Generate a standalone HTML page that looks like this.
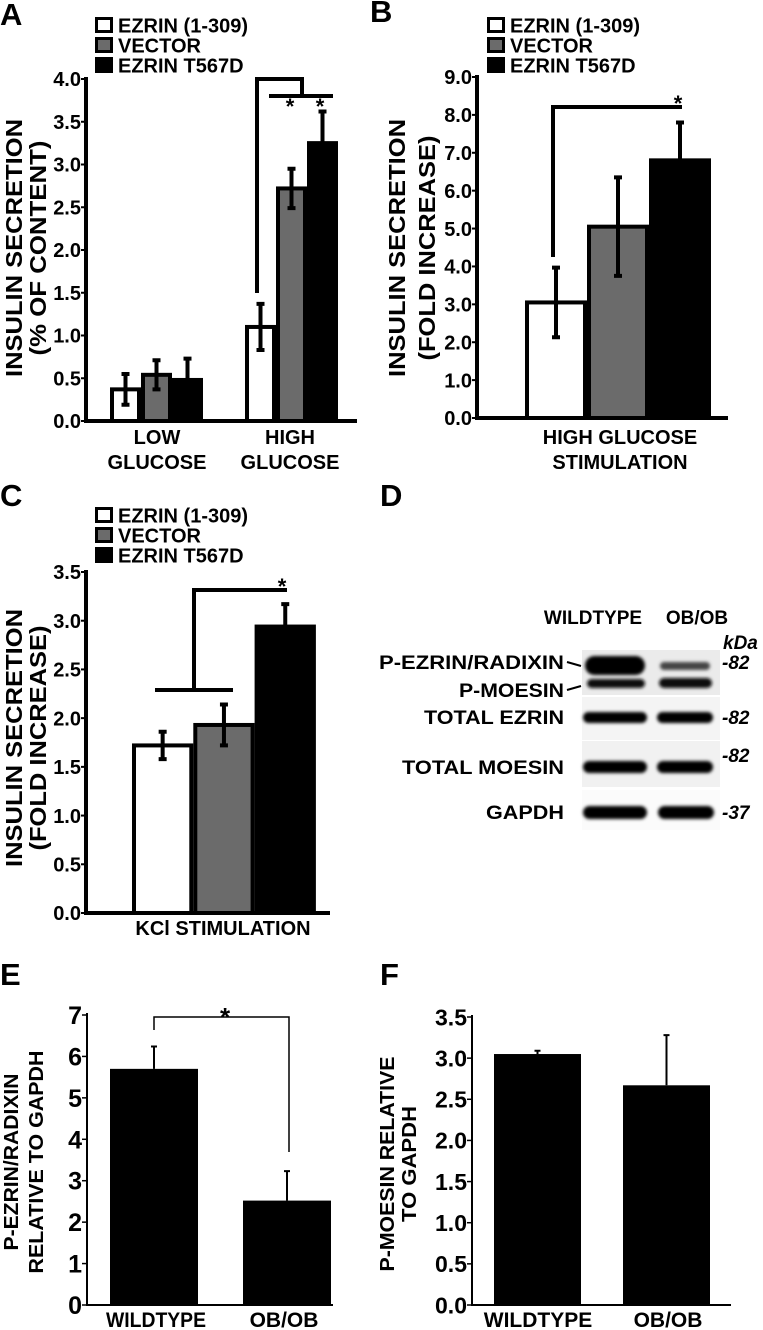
<!DOCTYPE html>
<html><head><meta charset="utf-8"><style>
html,body{margin:0;padding:0;background:#fff;}
svg{display:block;font-family:"Liberation Sans",Arial,sans-serif;font-weight:bold;}
</style></head><body>
<svg id="fig" width="763" height="1330" viewBox="0 0 763 1330" xmlns="http://www.w3.org/2000/svg">
<defs><filter id="blur" x="-20%" y="-50%" width="140%" height="200%"><feGaussianBlur stdDeviation="1.6"/></filter></defs>
</svg>
<script>
// ---- Panel A data ----
const aCategories = ["LOW|GLUCOSE", "HIGH|GLUCOSE"];
const seriesNames = ["EZRIN (1-309)", "VECTOR", "EZRIN T567D"];
const aWhite = [0.37, 1.10];
const aWhiteErr = [0.18, 0.27];
const aGray = [0.54, 2.72];
const aGrayErr = [0.17, 0.23];
const aBlack = [0.48, 3.25];
const aBlackErr = [0.25, 0.37];
const aTicks = ["0.0","0.5","1.0","1.5","2.0","2.5","3.0","3.5","4.0"];
// ---- Panel B data ----
const bCategories = ["HIGH GLUCOSE|STIMULATION"];
const bWhite = [3.05];
const bWhiteErr = [0.92];
const bGray = [5.05];
const bGrayErr = [1.3];
const bBlack = [6.8];
const bBlackErr = [1.0];
const bTicks = ["0.0","1.0","2.0","3.0","4.0","5.0","6.0","7.0","8.0","9.0"];
// ---- Panel C data ----
const cCategories = ["KCl STIMULATION"];
const cWhite = [1.72];
const cWhiteErr = [0.14];
const cGray = [1.93];
const cGrayErr = [0.21];
const cBlack = [2.94];
const cBlackErr = [0.23];
const cTicks = ["0.0","0.5","1.0","1.5","2.0","2.5","3.0","3.5"];
// ---- Panel E data ----
const eCategories = ["WILDTYPE", "OB/OB"];
const eValues = [5.7, 2.52];
const eErr = [0.54, 0.71];
const eTicks = ["0","1","2","3","4","5","6","7"];
// ---- Panel F data ----
const fCategories = ["WILDTYPE", "OB/OB"];
const fValues = [3.05, 2.67];
const fErr = [0.04, 0.61];
const fTicks = ["0.0","0.5","1.0","1.5","2.0","2.5","3.0","3.5"];

const NS = "http://www.w3.org/2000/svg";
const svg = document.getElementById("fig");
function mk(tag, attrs, parent){
  const e = document.createElementNS(NS, tag);
  for (const k in attrs) e.setAttribute(k, attrs[k]);
  (parent || svg).appendChild(e);
  return e;
}
function txt(x, y, s, size, anchor, extra){
  const a = Object.assign({x:x, y:y, "font-size":size, "text-anchor":anchor||"start", fill:"#000"}, extra||{});
  const t = mk("text", a);
  t.textContent = s;
  return t;
}
const fills = ["#fff", "#6b6b6b", "#000"];

function panelLetter(x, y, s){
  const t = txt(x, y, s, 31, "start");
  
  
}

function legend(x, y){
  for (let i = 0; i < 3; i++){
    const r = mk("rect", {x:x+1.5, y:y+i*20+1.5, width:15, height:13, fill:fills[i], stroke:"#000", "stroke-width":3});
    
    
    const t = txt(x+23, y+i*20+15.5, seriesNames[i], 20, "start");
    
    
  }
}

function yLabel(cx, cy, s, size, len){
  const t = txt(0, 0, s, size, "middle", {transform:"translate("+cx+","+cy+") rotate(-90)", "dominant-baseline":"central"});
  if (len) { t.setAttribute("textLength", len); t.setAttribute("lengthAdjust", "spacingAndGlyphs"); }
  
  
}

function axes(ax, y0, yTop, xEnd, ticks, tickMax, sw, tickSize, tickLabelOpts){
  const yS = v => y0 - v / tickMax * (y0 - yTop);
  const yl = mk("line", {x1:ax, y1:yTop-2, x2:ax, y2:y0+sw/2, stroke:"#000", "stroke-width":sw});
  
  
  const xl = mk("line", {x1:ax-sw/2, y1:y0, x2:xEnd, y2:y0, stroke:"#000", "stroke-width":sw});
  
  
  const n = ticks.length - 1;
  ticks.forEach((lab, i) => {
    const v = tickMax * i / n;
    const tk = mk("line", {x1:ax-5, y1:yS(v), x2:ax, y2:yS(v), stroke:"#000", "stroke-width":Math.max(1.5, sw/2)});
    
    
    const t = txt(ax-5, yS(v)+tickSize*0.36, lab, tickSize, "end", tickLabelOpts||{});
    
    
  });
  return yS;
}

function groupedBars(yS, groupLefts, bw, series, errs, sw){
  groupLefts.forEach((gl, g) => {
    for (let s = 0; s < 3; s++){
      const v = series[s][g], e = errs[s][g];
      const x = gl + s*bw;
      const r = mk("rect", {x:x+sw/2, y:yS(v), width:bw-sw, height:yS(0)-yS(v), fill:fills[s], stroke:"#000", "stroke-width":sw});
      
      
      const cx = x + bw/2;
      const el = mk("path", {d:"M"+cx+","+yS(v-e)+"V"+yS(v+e)+"M"+(cx-4)+","+yS(v-e)+"H"+(cx+4)+"M"+(cx-4)+","+yS(v+e)+"H"+(cx+4), stroke:"#000", "stroke-width":sw, fill:"none"});
      
      
    }
  });
}

function catLabels(list, centers, y, size, lens){
  list.forEach((c, i) => {
    c.split("|").forEach((line, j) => {
      const extra = (lens && lens[i]) ? {textLength:lens[i], lengthAdjust:"spacingAndGlyphs"} : {};
      const t = txt(centers[i], y + j*25, line, size, "middle", extra);
      
      
    });
  });
}

function bracket(d, sw){
  const p = mk("path", {d:d, stroke:"#000", "stroke-width":sw, fill:"none"});
  
  
}
function star(x, y, size){
  const t = txt(x, y, "*", size||22, "middle");
  
  
}

// ===== Panel A =====
panelLetter(0, 25, "A");
legend(95, 17);
let yA = axes(86, 421, 79, 357, aTicks, 4.0, 4, 20);
groupedBars(yA, [110, 245], 31, [aWhite, aGray, aBlack], [aWhiteErr, aGrayErr, aBlackErr], 4);
catLabels(aCategories, [157, 290], 444, 20);
yLabel(14, 248, "INSULIN SECRETION", 23, 258);
yLabel(38, 248, "(% OF CONTENT)", 23, 215);
bracket("M257,293V79H302V96M269,96H333", 4);
star(290, 114); star(320, 114);

// ===== Panel B =====
panelLetter(370, 22, "B");
legend(487, 17);
let yB = axes(477, 418, 77, 728, bTicks, 9.0, 4, 20);
groupedBars(yB, [525], 62, [bWhite, bGray, bBlack], [bWhiteErr, bGrayErr, bBlackErr], 4);
catLabels(bCategories, [620], 444, 20);
yLabel(397, 248, "INSULIN SECRETION", 23, 258);
yLabel(427, 248, "(FOLD INCREASE)", 23, 225);
bracket("M553,257V107H682", 4);
star(678, 111);

// ===== Panel C =====
panelLetter(0, 506, "C");
legend(95, 507);
let yC = axes(86, 913, 572, 330, cTicks, 3.5, 4, 20);
groupedBars(yC, [132], 61.3, [cWhite, cGray, cBlack], [cWhiteErr, cGrayErr, cBlackErr], 4);
catLabels(cCategories, [223], 935, 20);
yLabel(14, 738, "INSULIN SECRETION", 23, 258);
yLabel(38, 738, "(FOLD INCREASE)", 23, 225);
bracket("M194,692V590H287M155,690H233", 4);
star(282, 594);

// ===== Panel D (western blot) =====
panelLetter(380, 506, "D");
(function(){
  const g = mk("g", {});
  
  
  const hdr1 = txt(593, 624, "WILDTYPE", 19, "middle");
  
  
  const hdr2 = txt(697, 624, "OB/OB", 19, "middle");
  
  
  const kda = txt(723, 649, "kDa", 19, "start", {"font-style":"italic"});
  
  
  const boxes = [[582,650,138,45,"#ebebeb"],[582,697,138,43,"#f4f4f4"],[582,741,138,46,"#f1f1f1"],[582,790,138,40,"#fbfbfb"]];
  boxes.forEach(b => {
    const r = mk("rect", {x:b[0], y:b[1], width:b[2], height:b[3], fill:b[4]}, g);
    
    
  });
  const bands = [[585,656,60,19,"#000"],[587,679,58,9,"#111"],[660,662,50,8,"#444"],[659,678,53,10,"#111"],
                 [583,712,64,11,"#000"],[657,712,56,11,"#000"],[583,761,64,12,"#000"],[657,761,56,12,"#000"],
                 [583,806,64,13,"#000"],[658,806,56,13,"#000"]];
  bands.forEach(b => {
    const r = mk("rect", {x:b[0], y:b[1], width:b[2], height:b[3], rx:b[3]/2, fill:b[4], filter:"url(#blur)"}, g);
    
    
  });
  const labels = [["P-EZRIN/RADIXIN",669,185],["P-MOESIN",697,105],["TOTAL EZRIN",724,140],["TOTAL MOESIN",774,162],["GAPDH",819,78]];
  labels.forEach(l => {
    const t = txt(564, l[1], l[0], 19, "end", {textLength:l[2], lengthAdjust:"spacingAndGlyphs"});
    
    
  });
  const pl = mk("path", {d:"M567,662L581,666M567,690L581,686", stroke:"#000", "stroke-width":2, fill:"none"});
  
  
  [["-82",669],["-82",724],["-82",762],["-37",819]].forEach(m => {
    const t = txt(722, m[1], m[0], 19, "start", {"font-style":"italic"});
    
    
  });
})();

// ===== Panel E =====
panelLetter(0, 985, "E");
function simpleBars(yS, lefts, bw, values, errs, name){
  lefts.forEach((x, i) => {
    const v = values[i], e = errs[i];
    const r = mk("rect", {x:x, y:yS(v), width:bw, height:yS(0)-yS(v), fill:"#000"});
    
    
    const cx = x + bw/2;
    const el = mk("path", {d:"M"+cx+","+yS(v)+"V"+yS(v+e)+"M"+(cx-3)+","+yS(v+e)+"H"+(cx+3), stroke:"#000", "stroke-width":2, fill:"none"});
    
    
  });
}
let yE = axes(87, 1305, 1015, 333, eTicks, 7, 2, 25);
simpleBars(yE, [110, 243], 88, eValues, eErr, "e");
catLabels(eCategories, [156, 284], 1327, 21, [100, 0]);
yLabel(12, 1162, "P-EZRIN/RADIXIN", 20, 177);
yLabel(37, 1162, "RELATIVE TO GAPDH", 20, 223);
bracket("M154,1030V1017H289V1152", 1.5);
star(225, 1026, 26);

// ===== Panel F =====
panelLetter(380, 985, "F");
let yF = axes(472, 1305, 1017, 731, fTicks, 3.5, 2, 23);
simpleBars(yF, [494, 623], 87, fValues, fErr, "f");
catLabels(fCategories, [538, 668], 1327, 21);
yLabel(388, 1164, "P-MOESIN RELATIVE", 20, 215);
yLabel(410, 1164, "TO GAPDH", 20, 116);
</script>
</body></html>
